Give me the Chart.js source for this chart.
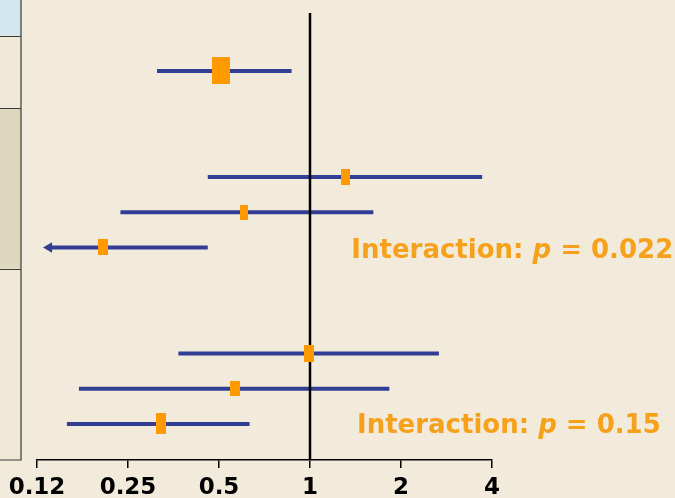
<!DOCTYPE html>
<html>
<head>
<meta charset="utf-8">
<script src="https://cdn.jsdelivr.net/npm/chart.js@4.4.1/dist/chart.umd.min.js"></script>
<style>
  html, body { margin: 0; padding: 0; background: #f2ebdb; }
  canvas { display: block; }
</style>
</head>
<body>
<canvas id="forest" width="675" height="498"></canvas>
<script>
// hazard ratios, one entry per row (row = vertical slot)
var rows      = [0, 3, 4, 5, 8, 9, 10];
var estimates = [0.508, 1.31, 0.605, 0.206, 0.99, 0.566, 0.322];
var lowerCI   = [0.312, 0.459, 0.236, 0.137, 0.367, 0.172, 0.157];
var upperCI   = [0.869, 3.71, 1.62, 0.459, 2.67, 1.83, 0.631];
var offScale  = [false, false, false, true, false, false, false];

// box size (weight) per row, in px: [width, height]
var boxSizes = [[18, 27], [9, 16], [8, 15], [10, 16], [10, 17], [10, 15], [10, 21]];

// x axis ticks
var tickValues = [0.125, 0.25, 0.5, 1, 2, 4];
var tickLabels = ["0.12", "0.25", "0.5", "1", "2", "4"];

// interaction notes: [row, x position (HR units), p value]
var notes = [
  { row: 5.12, x: 1.37, p: "0.022" },
  { row: 10.05, x: 1.43, p: "0.15" }
];

var BLUE = "#323e93";
var ORANGE = "#ff9900";
var TEXT_ORANGE = "#f6a11c";
var Y_MIN = -1.643, Y_MAX = 11.02;

// build a filled rectangle image for each box so chart.js draws it as the point
function boxImage(w, h) {
  var c = document.createElement("canvas");
  c.width = w;
  c.height = h;
  var g = c.getContext("2d");
  g.fillStyle = ORANGE;
  g.fillRect(0, 0, w, h);
  return c;
}

var datasets = [];

// boxes first so they end up on top
datasets.push({
  type: "scatter",
  data: estimates.map(function (v, i) { return { x: v, y: rows[i] }; }),
  pointStyle: boxSizes.map(function (s) { return boxImage(s[0], s[1]); }),
  pointRadius: 8,
  clip: false
});

// line of no effect
datasets.push({
  type: "line",
  data: [{ x: 1, y: Y_MIN }, { x: 1, y: Y_MAX }],
  borderColor: "#000",
  borderWidth: 2.5,
  pointRadius: 0,
  clip: false
});

// confidence interval lines
rows.forEach(function (r, i) {
  datasets.push({
    type: "line",
    data: [{ x: lowerCI[i], y: r }, { x: upperCI[i], y: r }],
    borderColor: BLUE,
    backgroundColor: BLUE,
    borderWidth: 4,
    pointRadius: offScale[i] ? [6, 0] : 0,
    pointStyle: "triangle",
    rotation: -90,
    pointBorderWidth: 0,
    clip: false
  });
});

// left hand table strip behind the plot
var leftStrip = {
  id: "leftStrip",
  beforeDraw: function (chart) {
    var ctx = chart.ctx;
    var y = chart.scales.y;
    var edge = chart.chartArea.left - 16;
    var bands = [
      [-3, -1, "#d3e7ef"],
      [-1, 1.05, "#f0e9d8"],
      [1.05, 5.6, "#ddd7bf"],
      [5.6, Y_MAX, "#f0e9d8"]
    ];
    ctx.save();
    bands.forEach(function (b) {
      var top = Math.max(0, y.getPixelForValue(b[0]));
      var bot = y.getPixelForValue(b[1]);
      ctx.fillStyle = b[2];
      ctx.fillRect(0, top, edge, bot - top);
    });
    ctx.strokeStyle = "#3a3a3a";
    ctx.lineWidth = 1.2;
    ctx.beginPath();
    ctx.moveTo(edge, 0);
    ctx.lineTo(edge, y.getPixelForValue(Y_MAX));
    ctx.lineTo(0, y.getPixelForValue(Y_MAX));
    [-1, 1.05, 5.6].forEach(function (v) {
      var py = Math.round(y.getPixelForValue(v)) + 0.5;
      ctx.moveTo(0, py);
      ctx.lineTo(edge, py);
    });
    ctx.stroke();
    ctx.restore();
  }
};

// "Interaction: p = ..." notes, with italic p
var interactionNotes = {
  id: "interactionNotes",
  afterDraw: function (chart) {
    var ctx = chart.ctx;
    var bold = "bold 26px 'DejaVu Sans'";
    var ital = "italic bold 26px 'DejaVu Sans'";
    ctx.save();
    ctx.fillStyle = TEXT_ORANGE;
    ctx.textBaseline = "middle";
    notes.forEach(function (n) {
      var x = chart.scales.x.getPixelForValue(n.x);
      var y = chart.scales.y.getPixelForValue(n.row);
      var parts = [["Interaction: ", bold], ["p", ital], [" = " + n.p, bold]];
      parts.forEach(function (p) {
        ctx.font = p[1];
        ctx.fillText(p[0], x, y);
        x += ctx.measureText(p[0]).width;
      });
    });
    ctx.restore();
  }
};

var chart = new Chart(document.getElementById("forest"), {
  type: "line",
  data: { datasets: datasets },
  options: {
    responsive: false,
    animation: false,
    layout: { padding: { left: 37, right: 183, top: 13, bottom: 0 } },
    plugins: {
      legend: { display: false },
      tooltip: { enabled: false }
    },
    scales: {
      x: {
        type: "logarithmic",
        min: 0.125,
        max: 4,
        afterBuildTicks: function (scale) {
          scale.ticks = tickValues.map(function (v) { return { value: v }; });
        },
        // fix the axis band height and let the layout padding decide the sides
        afterFit: function (scale) {
          scale.height = 38;
          scale.paddingLeft = 0;
          scale.paddingRight = 0;
        },
        border: { display: true, color: "#000", width: 1.5 },
        grid: { drawOnChartArea: false, drawTicks: true, tickLength: 8, color: "#000", lineWidth: 1.5 },
        ticks: {
          autoSkip: false,
          maxRotation: 0,
          color: "#000",
          padding: 11,
          font: { family: "'DejaVu Sans'", weight: "bold", size: 23, lineHeight: 0.82 },
          callback: function (value, index) { return tickLabels[index]; }
        }
      },
      y: {
        type: "linear",
        display: false,
        reverse: true,
        min: Y_MIN,
        max: Y_MAX
      }
    }
  },
  plugins: [leftStrip, interactionNotes]
});
</script>
</body>
</html>
